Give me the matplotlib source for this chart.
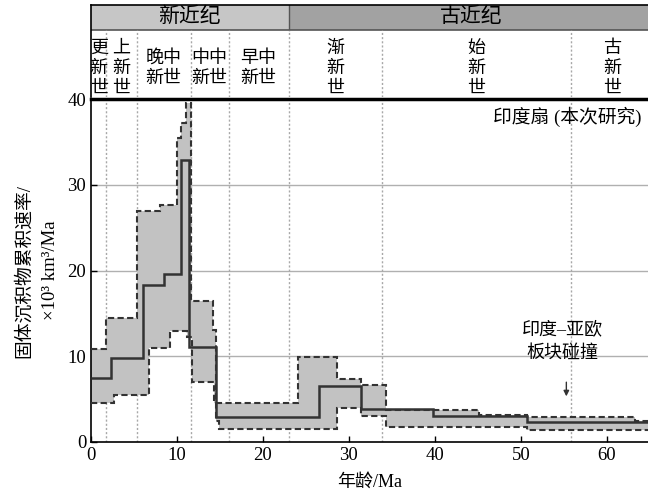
import numpy as np
import matplotlib
matplotlib.use('Agg')
import matplotlib.pyplot as plt

plt.rcParams['font.family'] = ['Liberation Serif', 'Noto Sans CJK SC']

# step series (age in Ma, rate in 10^3 km3/Ma)
up_edges = [0, 1.8, 5.3, 8.0, 10.0, 10.5, 11.0, 11.6, 14.2, 14.6, 24.1, 28.6, 31.4, 34.3, 45.1, 50.7, 63.3, 65]
up_vals = [10.8, 14.5, 26.9, 27.6, 35.5, 37.2, 39.5, 16.5, 13.1, 4.6, 9.9, 7.3, 6.6, 3.7, 3.2, 2.9, 2.5]

med_edges = [0, 2.3, 6.0, 8.5, 10.5, 11.4, 14.6, 26.5, 31.4, 39.8, 50.7, 65]
med_vals = [7.5, 9.8, 18.3, 19.6, 32.9, 11.1, 2.9, 6.5, 3.9, 3.0, 2.3]

low_edges = [0, 2.7, 6.7, 9.2, 11.2, 11.7, 14.3, 14.6, 14.9, 28.6, 31.4, 34.3, 50.7, 65]
low_vals = [4.5, 5.5, 11.0, 12.9, 12.2, 7.0, 4.6, 2.4, 1.5, 4.0, 3.0, 1.75, 1.35]

periods = ['新近纪', '古近纪']
period_bounds = [0, 23, 65.5]
period_colors = ['#c6c6c6', '#a2a2a2']

epochs = ['更\n新\n世', '上\n新\n世', '晚中\n新世', '中中\n新世', '早中\n新世', '渐\n新\n世', '始\n新\n世', '古\n新\n世']
epoch_bounds = [0, 1.8, 5.3, 11.6, 16, 23, 33.9, 55.8, 65.5]

W, H = 648, 497
fig = plt.figure(figsize=(W/100, H/100), dpi=100)
ax = fig.add_axes([91/W, (H-442)/H, (W-91)/W, (442-99)/H])
hd = fig.add_axes([91/W, (H-97)/H, (W-91)/W, (97-5)/H])

# shaded band between lower and upper bounds on a common step grid
grid = np.union1d(up_edges, low_edges)
def step_at(edges, vals, x):
    i = np.searchsorted(edges, x, side='right') - 1
    return np.array(vals)[np.clip(i, 0, len(vals)-1)]
ax.fill_between(grid, step_at(low_edges, low_vals, grid), step_at(up_edges, up_vals, grid),
                step='post', color='#c2c2c2', lw=0, zorder=2)

ax.stairs(up_vals, up_edges, color='#333333', lw=1.5, ls=(0, (3, 1.6)), baseline=None, zorder=4)
ax.stairs(low_vals, low_edges, color='#333333', lw=1.5, ls=(0, (3, 1.6)), baseline=None, zorder=4)
ax.stairs(med_vals, med_edges, color='#333333', lw=1.8, baseline=None, zorder=5)

for y in [10, 20, 30]:
    ax.axhline(y, color='#b0b0b0', lw=1, zorder=1)
for b in epoch_bounds[1:-1]:
    ax.axvline(b, color='#a8a8a8', lw=1, ls=(0, (1.5, 1.5)), zorder=1)

ax.set_xlim(0, 64.8)
ax.set_ylim(0, 40)
ax.set_xticks(np.arange(0, 61, 10))
ax.set_yticks(np.arange(0, 41, 10))
ax.tick_params(direction='in', labelsize=13.5, length=4, width=1)
ax.spines['right'].set_visible(False)
ax.spines['top'].set_linewidth(2.5)
ax.spines['left'].set_linewidth(1.2)
ax.spines['bottom'].set_linewidth(1.2)
ax.set_xlabel('年龄/Ma', fontsize=13, labelpad=7)
ax.set_ylabel('固体沉积物累积速率/\n×10³ km³/Ma', fontsize=13.5, linespacing=1.7, labelpad=6)

ax.text(46.8, 37.9, '印度扇 (本次研究)', fontsize=13.5, ha='left', va='center')
ax.text(54.9, 11.7, '印度–亚欧\n板块碰撞', fontsize=13, ha='center', va='center', linespacing=1.55)
ax.annotate('', xy=(55.3, 5.0), xytext=(55.3, 7.3),
            arrowprops=dict(arrowstyle='-|>', color='#333333', lw=1, mutation_scale=8))

# header: periods and epochs
hd.set_xlim(0, 64.8)
hd.set_ylim(0, 1)
for i in range(len(periods)):
    hd.axvspan(period_bounds[i], period_bounds[i+1], ymin=0.728, ymax=1, color=period_colors[i], lw=0)
    hd.text((period_bounds[i]+period_bounds[i+1])/2, 0.865, periods[i], fontsize=15, ha='center', va='center')
hd.axhline(0.728, color='#555555', lw=1.2)
hd.axvline(23, ymin=0.728, ymax=1, color='#555555', lw=1)
for b in epoch_bounds[1:-1]:
    hd.axvline(b, ymin=0, ymax=0.728, color='#a8a8a8', lw=1, ls=(0, (1.5, 1.5)))
for i in range(len(epochs)):
    hd.text((epoch_bounds[i]+epoch_bounds[i+1])/2, 0.31, epochs[i], fontsize=13,
            ha='center', va='center', linespacing=1.22)
hd.set_xticks([])
hd.set_yticks([])
hd.spines['right'].set_visible(False)
hd.spines['bottom'].set_visible(False)
hd.spines['top'].set_linewidth(1.2)
hd.spines['left'].set_linewidth(1.2)

fig.savefig('out.png', dpi=100)
